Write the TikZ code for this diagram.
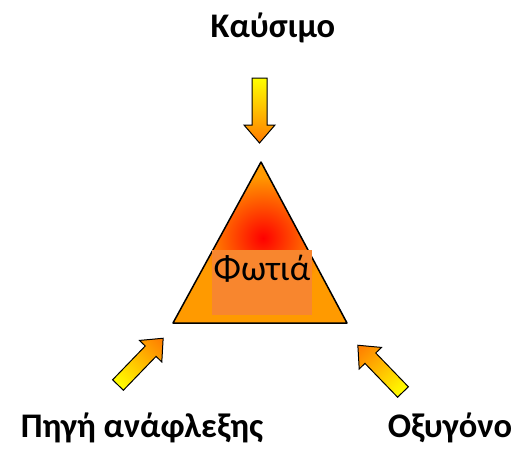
\documentclass[tikz,border=0pt]{standalone}
\usepackage{fontspec}
\setmainfont{Carlito}
\definecolor{fireorange}{HTML}{FF9A00}
\definecolor{boxorange}{HTML}{F8862E}
\definecolor{arrowtip}{HTML}{FF7A00}
\definecolor{arrowtail}{HTML}{FFFF00}
\begin{document}
\begin{tikzpicture}[x=1pt,y=-1pt,
  label/.style={font=\fontsize{34.5}{36}\selectfont\bfseries, text=black, inner sep=0pt, anchor=base},
  blockarrow/.style={draw=black, line width=1pt, left color=arrowtail, right color=arrowtip, line join=miter}]
\useasboundingbox (0,0) rectangle (522,453);
% triangle
\coordinate (apex) at (261,162);
\coordinate (bl) at (173,323);
\coordinate (br) at (347,323);
\fill[fireorange] (apex) -- (bl) -- (br) -- cycle;
\begin{scope}
  \clip (apex) -- (bl) -- (br) -- cycle;
  \shade[inner color=red, outer color=fireorange] (263,238) circle (62);
\end{scope}
\draw[line width=1.5pt, line join=round] (apex) -- (bl) -- (br) -- cycle;
\fill[boxorange] (212,250) rectangle (312,315);
\node[font=\fontsize{36}{38}\selectfont, text=black, inner sep=0pt, anchor=base] (fire) at (262,280) {Φωτιά};
% labels
\node[label] (fuel) at (273,37) {Καύσιμο};
\node[label] (ign) at (142,437) {Πηγή ανάφλεξης};
\node[label] (oxy) at (450,437) {Οξυγόνο};
% arrows (drawn along +x from tail at origin)
\begin{scope}[transform canvas={shift={(259.5,78)}, rotate=-90}]
  \shade[blockarrow] (0,-7.5) -- (47,-7.5) -- (47,-15.5) -- (65,0) -- (47,15.5) -- (47,7.5) -- (0,7.5) -- cycle;
\end{scope}
\begin{scope}[transform canvas={shift={(118,385)}, rotate=46}]
  \shade[blockarrow] (0,-7.5) -- (47,-7.5) -- (47,-15.5) -- (65,0) -- (47,15.5) -- (47,7.5) -- (0,7.5) -- cycle;
\end{scope}
\begin{scope}[transform canvas={shift={(403,392)}, rotate=134}]
  \shade[blockarrow] (0,-7.5) -- (47,-7.5) -- (47,-15.5) -- (65,0) -- (47,15.5) -- (47,7.5) -- (0,7.5) -- cycle;
\end{scope}
\end{tikzpicture}
\end{document}
